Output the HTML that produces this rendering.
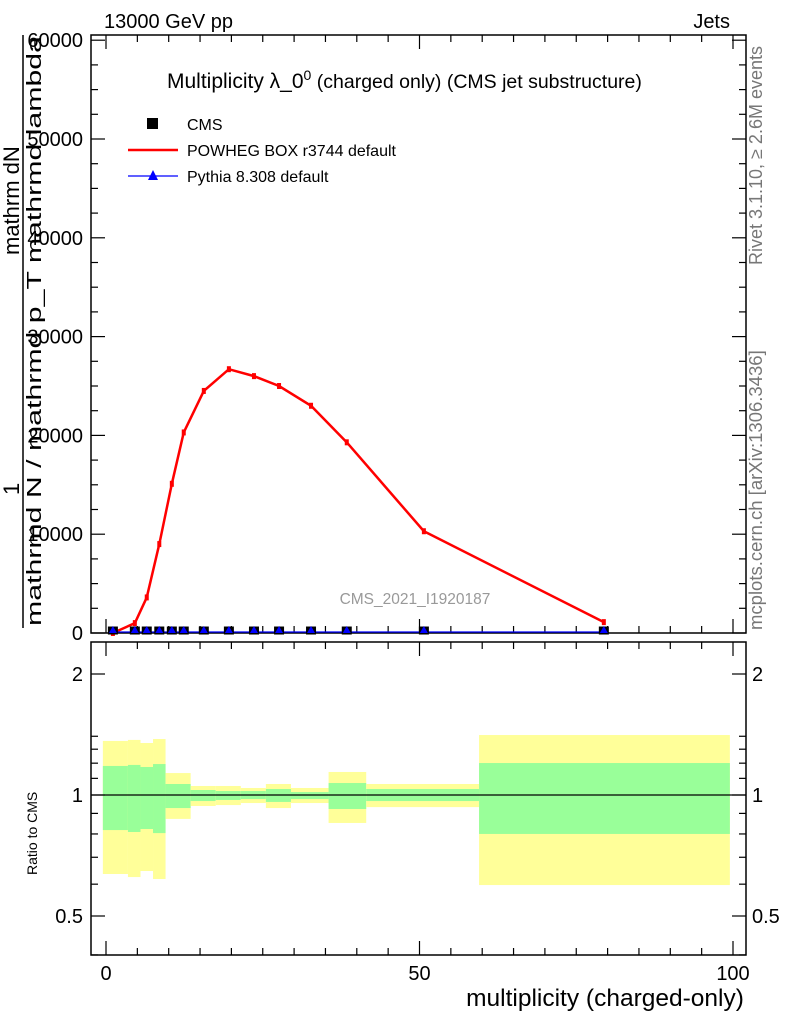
<!DOCTYPE html>
<html><head><meta charset="utf-8"><style>
body{margin:0;background:#fff}
svg{display:block;font-family:"Liberation Sans",sans-serif}
</style></head><body>
<svg id="c" width="786" height="1024" xmlns="http://www.w3.org/2000/svg"></svg>
<script>
const powX=[1.1,4.6,6.5,8.5,10.5,12.4,15.6,19.6,23.6,27.6,32.7,38.4,50.7,79.4];
const powY=[0,1000,3600,9000,15100,20300,24500,26700,26000,25000,23000,19300,10300,1100];
const cmsY=[150,150,150,150,150,150,150,150,150,150,150,150,150,150];
const pyY=[100,100,100,100,100,100,100,100,100,100,100,100,100,100];
const binEdges=[-0.5,3.5,5.5,7.5,9.5,13.5,17.5,21.5,25.5,29.5,35.5,41.5,59.5,99.5];
const yelHi=[1.363,1.371,1.347,1.378,1.134,1.053,1.053,1.041,1.065,1.041,1.141,1.065,1.41];
const grnHi=[1.181,1.188,1.174,1.194,1.065,1.029,1.023,1.023,1.035,1.017,1.071,1.035,1.201];
const grnLo=[0.818,0.809,0.823,0.804,0.928,0.966,0.972,0.977,0.961,0.977,0.923,0.966,0.80];
const yelLo=[0.636,0.625,0.647,0.618,0.872,0.939,0.944,0.955,0.928,0.955,0.852,0.933,0.597];
const yTicks=[0,10000,20000,30000,40000,50000,60000];
const xTicks=[0,50,100];
const rTicks=[0.5,1,2];

const svg=document.getElementById('c');const NS='http://www.w3.org/2000/svg';
function el(t,a,txt,p){const e=document.createElementNS(NS,t);for(const k in a)e.setAttribute(k,a[k]);if(txt!=null)e.textContent=txt;(p||svg).appendChild(e);return e;}
const X=v=>106+v*6.27, Y=v=>633-v*0.00988, R=v=>795-Math.log2(v)*121;
const L=91,Rt=746,T=35,B=633,RT=642,RB=955;

const bands=el('g',{});
for(let i=0;i<yelHi.length;i++){
 const x0=X(binEdges[i]),x1=X(binEdges[i+1]);
 const y=el('rect',{x:x0,y:R(yelHi[i]),width:x1-x0,height:R(yelLo[i])-R(yelHi[i]),fill:'#ffff99'},null,bands);
 
 const g=el('rect',{x:x0,y:R(grnHi[i]),width:x1-x0,height:R(grnLo[i])-R(grnHi[i]),fill:'#99ff99'},null,bands);
 
}
el('line',{x1:L,x2:Rt,y1:R(1),y2:R(1),stroke:'#000','stroke-width':1.2});

for(const [t,b,n] of [[T,B,'main-frame'],[RT,RB,'ratio-frame']]){
 const f=el('rect',{x:L,y:t,width:Rt-L,height:b-t,fill:'none',stroke:'#000','stroke-width':1.5});
 
}
for(let v=0;v<=100;v+=5){const maj=v%50==0;
 for(const [t,b] of [[T,B],[RT,RB]]){
  el('line',{x1:X(v),x2:X(v),y1:b,y2:b-(maj?14:7),stroke:'#000','stroke-width':1.2});
  el('line',{x1:X(v),x2:X(v),y1:t,y2:t+(maj?14:7),stroke:'#000','stroke-width':1.2});
 }}
xTicks.forEach(v=>{const t=el('text',{x:X(v),y:980,'font-size':20,'text-anchor':'middle'},v);});
for(let v=0;v<=60000;v+=2500){const maj=v%10000==0;
 el('line',{x1:L,x2:L+(maj?14:7),y1:Y(v),y2:Y(v),stroke:'#000','stroke-width':1.2});
 el('line',{x1:Rt,x2:Rt-(maj?14:7),y1:Y(v),y2:Y(v),stroke:'#000','stroke-width':1.2});}
yTicks.forEach(v=>{const t=el('text',{x:83,y:Y(v)+7,'font-size':20,'text-anchor':'end'},v);});
for(let v=0.4;v<=2.25;v+=0.1){const vv=Math.round(v*10)/10;if(v>1.5&&Math.abs(vv-2)>0.01)continue;const yy=R(vv);if(yy<RT||yy>RB)continue;
 const maj=[0.5,1,2].some(m=>Math.abs(m-vv)<0.01);
 el('line',{x1:L,x2:L+(maj?14:7),y1:yy,y2:yy,stroke:'#000','stroke-width':1.2});
 el('line',{x1:Rt,x2:Rt-(maj?14:7),y1:yy,y2:yy,stroke:'#000','stroke-width':1.2});}
rTicks.forEach(v=>{
 const a=el('text',{x:83,y:R(v)+7,'font-size':20,'text-anchor':'end'},v);
 const b=el('text',{x:752,y:R(v)+7,'font-size':20},v);});

const pw=el('polyline',{points:powX.map((x,i)=>X(x)+','+Y(powY[i])).join(' '),fill:'none',stroke:'#f00','stroke-width':2.5});

powX.forEach((x,i)=>{const m=el('rect',{x:X(x)-2,y:Y(powY[i])-3,width:4,height:6,fill:'#f00'});});
const py=el('polyline',{points:powX.map((x,i)=>X(x)+','+Y(pyY[i])).join(' '),fill:'none',stroke:'#00f','stroke-width':1.2});

powX.forEach((x,i)=>{const m=el('rect',{x:X(x)-5,y:Y(cmsY[i])-5,width:10,height:8,fill:'#000'});
 const p=el('polygon',{points:`${X(x)},${Y(pyY[i])-6} ${X(x)-4},${Y(pyY[i])+1} ${X(x)+4},${Y(pyY[i])+1}`,fill:'#00f'});});

function tx(x,y,s,txt,name,extra){const t=el('text',Object.assign({x:x,y:y,'font-size':s},extra||{}),txt);return t;}
tx(104,28,20,'13000 GeV pp','process-label');
tx(730,28,20,'Jets','category-label',{'text-anchor':'end'});
const ti=tx(167,88,21,'','plot-title');ti.innerHTML='Multiplicity λ_0<tspan font-size="14" dy="-8">0</tspan><tspan font-size="19.5" dy="8"> (charged only) (CMS jet substructure)</tspan>';
tx(415,604,15.5,'CMS_2021_I1920187','analysis-watermark',{'text-anchor':'middle',fill:'#999'});
tx(605,1006,24.5,'multiplicity (charged-only)','x-axis-title',{'text-anchor':'middle'});
tx(0,0,14,'Ratio to CMS','ratio-axis-title',{transform:'translate(37,875) rotate(-90)'});
tx(0,0,18,'Rivet 3.1.10, ≥ 2.6M events','rivet-label',{transform:'translate(762,265) rotate(-90)',fill:'#777'});
tx(0,0,18.5,'mcplots.cern.ch [arXiv:1306.3436]','mcplots-label',{transform:'translate(762,630) rotate(-90)',fill:'#777'});
tx(0,0,20,'mathrmd N / mathrmd p_T mathrmd lambda','y-axis-title-denominator',{transform:'translate(41,626) rotate(-90)',textLength:590,lengthAdjust:'spacingAndGlyphs'});
tx(0,0,22,'mathrm dN','y-axis-title-numerator',{transform:'translate(19,255) rotate(-90)'});
tx(0,0,22,'1','y-axis-title-one',{transform:'translate(19,495) rotate(-90)'});
el('line',{x1:23,x2:23,y1:35,y2:628,stroke:'#000','stroke-width':1.5});
const lg=el('g',{});
el('rect',{x:147,y:118,width:11,height:11,fill:'#000'},null,lg);
tx(187,130,16,'CMS','legend-cms');
el('line',{x1:128,x2:178,y1:150,y2:150,stroke:'#f00','stroke-width':2.5},null,lg);
tx(187,156,16,'POWHEG BOX r3744 default','legend-powheg');
el('line',{x1:128,x2:178,y1:176,y2:176,stroke:'#00f','stroke-width':1.2},null,lg);
el('polygon',{points:'153,170 148,180 158,180',fill:'#00f'},null,lg);
tx(187,182,16,'Pythia 8.308 default','legend-pythia');
</script>
</body></html>
